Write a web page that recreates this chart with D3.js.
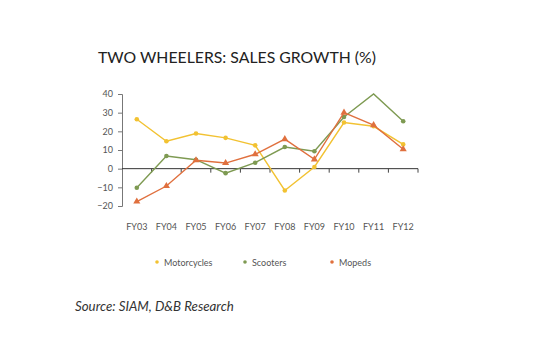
<!DOCTYPE html>
<html><head><meta charset="utf-8">
<script src="https://cdn.jsdelivr.net/npm/d3@7"></script>
<style>body{margin:0;background:#fff}</style>
</head><body>
<svg id="c" width="545" height="337"></svg>
<script>
const categories = ["FY03","FY04","FY05","FY06","FY07","FY08","FY09","FY10","FY11","FY12"];
const motorcycles = [26.5, 14.7, 18.8, 16.5, 12.5, -11.7, 0.9, 24.7, 22.7, 13];
const scooters = [-10.2, 6.8, 4.8, -2.4, 3.2, 11.6, 9.3, 27.7, 40, 25.4];
const mopeds = [-17.6, -9.3, 4.5, 3, 7.7, 15.8, 5, 30, 23.3, 10.4];
const yTicks = [-20, -10, 0, 10, 20, 30, 40];
const seriesNames = ["Motorcycles","Scooters","Mopeds"];
const colors = ["#F2C232","#7E9A52","#E0703E"];

const svg = d3.select("#c");
const font = "'Lato','Open Sans',sans-serif";
const x = d3.scaleBand().domain(categories).range([122, 418]);
const y = d3.scaleLinear().domain([-20, 40]).range([206, 94]);

svg.append("text").attr("x", 98).attr("y", 63).attr("font-family", font)
  .attr("font-size", 15.8).attr("fill", "#222").text("TWO WHEELERS: SALES GROWTH (%)");

// y axis
const ya = svg.append("g").attr("transform", "translate(122,0)")
  .call(d3.axisLeft(y).tickValues(yTicks).tickSize(4).tickPadding(5));
ya.select(".domain").attr("stroke", "#777");
ya.selectAll(".tick line").attr("stroke", "#777");
ya.selectAll("text").attr("font-family", font).attr("font-size", 9).attr("fill", "#555");

// x axis at zero
const xa = svg.append("g").attr("transform", `translate(0,${y(0)})`)
  .call(d3.axisBottom(x).tickSize(0).tickFormat(""));
xa.select(".domain").attr("stroke", "#333").attr("d", `M122,0H418`);
const bounds = categories.slice(1).map(c => x(c)).concat([418]);
xa.selectAll(".bt").data(bounds).enter().append("line").attr("class","bt")
  .attr("x1", d => d).attr("x2", d => d).attr("y1", 0).attr("y2", 4).attr("stroke", "#444");

svg.append("g").selectAll("text").data(categories).enter().append("text")
  .attr("x", d => x(d) + x.bandwidth()/2).attr("y", 230).attr("text-anchor", "middle")
  .attr("font-family", font).attr("font-size", 9).attr("fill", "#555").text(d => d);

const data = [motorcycles, scooters, mopeds];
const line = d3.line().x((d,i) => x(categories[i]) + x.bandwidth()/2).y(d => y(d));
data.forEach((vals, si) => {
  svg.append("path").attr("d", line(vals)).attr("fill", "none")
    .attr("stroke", colors[si]).attr("stroke-width", 1.4);
  const g = svg.append("g");
  vals.forEach((v, i) => {
    const cx = x(categories[i]) + x.bandwidth()/2, cy = y(v);
    if (si === 2) {
      g.append("path").attr("d", d3.symbol(d3.symbolTriangle, 22)())
        .attr("transform", `translate(${cx},${cy})`).attr("fill", colors[si]);
    } else if (!(si === 1 && i === 8)) {
      g.append("circle").attr("cx", cx).attr("cy", cy).attr("r", 2.3).attr("fill", colors[si]);
    }
  });
});

// legend
const lx = [157, 245, 332];
seriesNames.forEach((n, i) => {
  svg.append("circle").attr("cx", lx[i]).attr("cy", 262).attr("r", 1.8).attr("fill", colors[i]);
  svg.append("text").attr("x", lx[i] + 7).attr("y", 265.5).attr("font-family", font)
    .attr("font-size", 9).attr("fill", "#555").text(n);
});

svg.append("text").attr("x", 75).attr("y", 311).attr("font-family", font)
  .attr("font-style", "italic").attr("font-size", 13.3).attr("fill", "#333")
  .text("Source: SIAM, D&B Research");
</script>
</body></html>
